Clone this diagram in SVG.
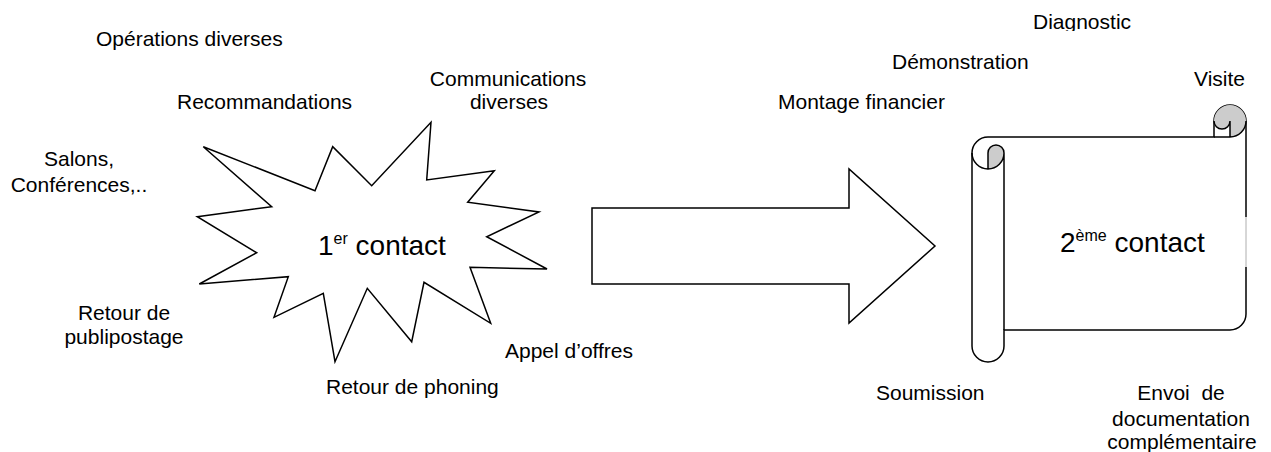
<svg xmlns="http://www.w3.org/2000/svg" width="1271" height="452" viewBox="0 0 1271 452">
  <style>
    .lbl { font-family: "Liberation Sans", Arial, sans-serif; font-size: 21px; fill: #000; }
    .big { font-family: "Liberation Sans", Arial, sans-serif; font-size: 28px; fill: #000; }
    .mid { text-anchor: middle; }
    .shape { fill: #fff; stroke: #000; stroke-width: 1.5; stroke-linejoin: miter; }
    .line { fill: none; stroke: #000; stroke-width: 1.5; }
    .shade { fill: #cccccc; stroke: none; }
  </style>
  <defs>
    <clipPath id="clipTop">
      <rect x="0" y="0" width="1271" height="31"/>
    </clipPath>
  </defs>
  <rect width="1271" height="452" fill="#fff"/>

  <!-- first contact: explosion shape -->
  <g id="contact1">
    <polygon class="shape" points="431,122.3 426.7,180 494.3,170.7 467.7,202.3 539,212 486.7,236.7 547,269 470,267.3 490.7,323.3 424,282.3 411.7,341.7 367.3,288.3 335,361.7 323.3,293.3 274,317.3 288.3,276.7 199.3,284 256.7,252.7 197.3,216.7 271.7,206.7 203.3,146.7 315,190.7 332.7,146.7 371.7,185.7"/>
    <text class="big" x="318" y="255">1<tspan font-size="16" dy="-11">er</tspan><tspan dy="11"> contact</tspan></text>
  </g>

  <!-- block arrow between the two contacts -->
  <g id="connectors">
    <polygon class="shape" points="592,208 849,208 849,169 935,246 849,323 849,284 592,284"/>
  </g>

  <!-- second contact: horizontal scroll -->
  <g id="contact2">
    <path class="shape" d="M972,153 A16,16 0 0 1 988,137 L1214,137 L1214,121 A16,16 0 0 1 1246,121 L1246,314 A16,16 0 0 1 1230,330 L1004,330 L1004,346 A16,16 0 0 1 972,346 Z"/>
    <!-- rolled-up parts -->
    <path class="shade" d="M1230,137 A16,16 0 1 0 1214,121 A8,8 0 0 0 1230,121 Z"/>
    <path class="shade" d="M988,169 A16,16 0 0 0 1004,153 A8,8 0 0 0 988,153 Z"/>
    <path class="line" d="M1214,137 L1230,137 A16,16 0 0 0 1246,121 M1230,137 L1230,121 A8,8 0 0 1 1214,121 M988,169 L988,153 A8,8 0 0 1 1004,153 A16,16 0 0 1 972,153 M1004,153 L1004,330"/>
    <!-- faint section of the right edge -->
    <line x1="1246" y1="217" x2="1246" y2="267" stroke="#fff" stroke-width="2"/>
    <line x1="1246" y1="217" x2="1246" y2="267" stroke="#999" stroke-width="0.8"/>
    <text class="big" x="1060" y="252">2<tspan font-size="16" dy="-11">ème</tspan><tspan dy="11"> contact</tspan></text>
  </g>

  <!-- sources of the first contact -->
  <g id="label-operations"><text class="lbl" x="96" y="46">Opérations diverses</text></g>
  <g id="label-recommandations"><text class="lbl" x="177" y="109">Recommandations</text></g>
  <g id="label-communications">
    <text class="lbl mid" x="508" y="86">Communications</text>
    <text class="lbl mid" x="509" y="109">diverses</text>
  </g>
  <g id="label-salons">
    <text class="lbl mid" x="79" y="166">Salons,</text>
    <text class="lbl mid" x="79" y="192">Conférences,..</text>
  </g>
  <g id="label-publipostage">
    <text class="lbl mid" x="124" y="320">Retour de</text>
    <text class="lbl mid" x="124" y="344">publipostage</text>
  </g>
  <g id="label-phoning"><text class="lbl" x="326" y="394">Retour de phoning</text></g>
  <g id="label-appel"><text class="lbl" x="505" y="358">Appel d’offres</text></g>

  <!-- outcomes of the second contact -->
  <g id="label-montage"><text class="lbl" x="778" y="109">Montage financier</text></g>
  <g id="label-demonstration"><text class="lbl" x="892" y="69">Démonstration</text></g>
  <g id="label-diagnostic"><text class="lbl" x="1033" y="29" clip-path="url(#clipTop)">Diagnostic</text></g>
  <g id="label-visite"><text class="lbl" x="1194" y="86">Visite</text></g>
  <g id="label-soumission"><text class="lbl" x="876" y="400">Soumission</text></g>
  <g id="label-envoi">
    <text class="lbl mid" x="1181" y="400" style="white-space:pre">Envoi  de</text>
    <text class="lbl mid" x="1181" y="426">documentation</text>
    <text class="lbl mid" x="1182" y="449">complémentaire</text>
  </g>
</svg>
